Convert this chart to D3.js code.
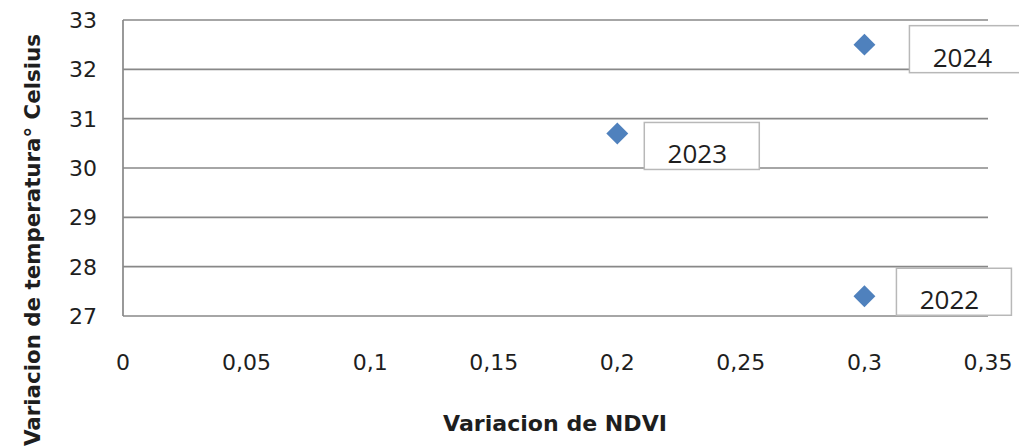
<!DOCTYPE html>
<html>
<head>
<meta charset="utf-8">
<script src="https://cdn.jsdelivr.net/npm/d3@7"></script>
<style>
  html, body { margin: 0; padding: 0; background: #fff; }
  svg { display: block; }
</style>
</head>
<body>
<svg id="chart" width="1019" height="448"></svg>
<script>
// ---- data ----
const years = ["2022", "2023", "2024"];
const ndvi = [0.3, 0.2, 0.3];
const temperature = [27.4, 30.7, 32.5];
const xTicks = [0, 0.05, 0.1, 0.15, 0.2, 0.25, 0.3, 0.35];
const yTicks = [27, 28, 29, 30, 31, 32, 33];
const xTitle = "Variacion de NDVI";
const yTitle = "Variacion de temperatura° Celsius";

// ---- layout (label box offsets from each point, pixels) ----
const labelDx = [32, 27, 45];
const labelDy = [-28, -11, -19];

(function () {
const svg = d3.select("#chart");
const plotL = 123, plotR = 988, plotT = 20, plotB = 316;

const x = d3.scaleLinear().domain([0, 0.35]).range([plotL, plotR]);
const y = d3.scaleLinear().domain([27, 33]).range([plotB, plotT]);

const fmt = d => String(d).replace(".", ",");
const txt = "#1e1e1e";
const tickFont = "DejaVu Sans, Verdana, sans-serif";

// gridlines
svg.append("g").selectAll("line").data(yTicks).join("line")
  .attr("x1", plotL).attr("x2", plotR)
  .attr("y1", d => y(d)).attr("y2", d => y(d))
  .attr("stroke", "#888").attr("stroke-width", 1.7);

// y axis line
svg.append("line")
  .attr("x1", plotL).attr("x2", plotL)
  .attr("y1", y(33)).attr("y2", y(27))
  .attr("stroke", "#888").attr("stroke-width", 1.7);

// y tick labels
svg.append("g").selectAll("text").data(yTicks).join("text")
  .attr("x", 97).attr("y", d => y(d))
  .attr("dy", "0.36em")
  .attr("text-anchor", "end")
  .attr("font-family", tickFont).attr("font-size", 22)
  .attr("fill", txt)
  .text(d => d);

// x tick labels
svg.append("g").selectAll("text").data(xTicks).join("text")
  .attr("x", d => x(d)).attr("y", 370)
  .attr("text-anchor", "middle")
  .attr("font-family", tickFont).attr("font-size", 22)
  .attr("fill", txt)
  .text(d => fmt(d));

// axis titles
svg.append("text")
  .attr("x", 555).attr("y", 431)
  .attr("text-anchor", "middle")
  .attr("font-family", tickFont).attr("font-weight", "bold").attr("font-size", 22)
  .attr("textLength", 224).attr("lengthAdjust", "spacingAndGlyphs")
  .attr("fill", txt)
  .text(xTitle);

svg.append("text")
  .attr("transform", "translate(40,240) rotate(-90)")
  .attr("text-anchor", "middle")
  .attr("font-family", tickFont).attr("font-weight", "bold").attr("font-size", 22)
  .attr("textLength", 412).attr("lengthAdjust", "spacingAndGlyphs")
  .attr("fill", txt)
  .text(yTitle);

// points
const pts = years.map((yr, i) => ({ yr, nx: ndvi[i], t: temperature[i], dx: labelDx[i], dy: labelDy[i] }));

svg.append("g").selectAll("path").data(pts).join("path")
  .attr("d", d3.symbol().type(d3.symbolSquare).size(240))
  .attr("transform", d => `translate(${x(d.nx)},${y(d.t)}) rotate(45)`)
  .attr("fill", "#4f81bd");

// data labels
const lbl = svg.append("g").selectAll("g").data(pts).join("g")
  .attr("transform", d => `translate(${x(d.nx) + d.dx},${y(d.t) + d.dy})`);

lbl.append("rect")
  .attr("width", 115).attr("height", 47)
  .attr("fill", "#fff").attr("stroke", "#b8b8b8").attr("stroke-width", 1.5);

lbl.append("text")
  .attr("x", 53).attr("y", 41)
  .attr("text-anchor", "middle")
  .attr("font-family", "Open Sans, sans-serif").attr("font-size", 26)
  .attr("fill", txt)
  .text(d => d.yr);
})();
</script>
</body>
</html>
